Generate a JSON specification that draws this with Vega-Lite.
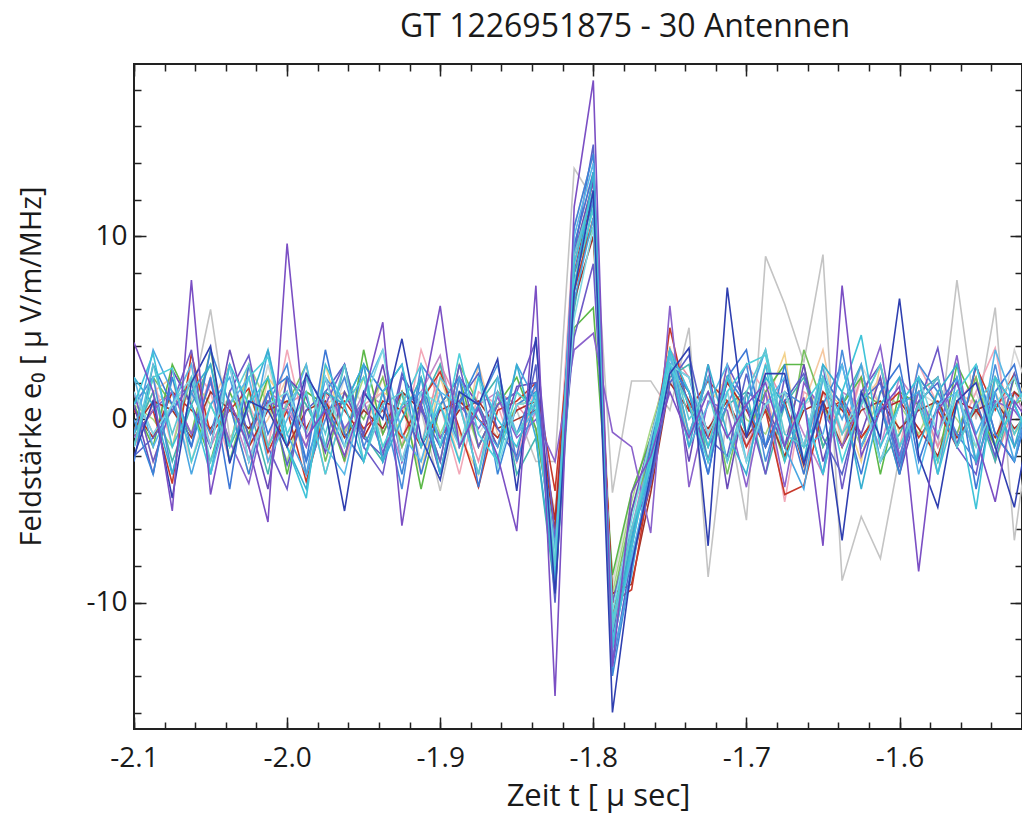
{
"$schema": "https://vega.github.io/schema/vega-lite/v6.json",
"width": 888, "height": 665,
"autosize": {"type": "none"},
"padding": {"left": 134, "top": 64, "right": 0, "bottom": 84},
"background": "white",
"title": {"text": "GT 1226951875 - 30 Antennen", "font": "Open Sans", "fontSize": 32, "fontWeight": "normal", "color": "#1a1a1a", "anchor": "middle", "frame": "group", "dx": 47, "offset": 19},
"config": {"view": {"stroke": "#222", "strokeWidth": 2}, "axis": {"tickColor": "#222", "tickWidth": 1.5, "grid": false, "domain": false}},
"data": {"values": [
{"a":"S25","t":-2.1,"v":-0.8},{"a":"S25","t":-2.0875,"v":1.5},{"a":"S25","t":-2.075,"v":0.8},{"a":"S25","t":-2.0625,"v":-2.3},{"a":"S25","t":-2.05,"v":1.5},{"a":"S25","t":-2.0375,"v":0.8},{"a":"S25","t":-2.025,"v":-1.5},{"a":"S25","t":-2.0125,"v":3.0},{"a":"S25","t":-2,"v":-0.8},{"a":"S25","t":-1.9875,"v":0.8},{"a":"S25","t":-1.975,"v":-1.5},{"a":"S25","t":-1.9625,"v":2.3},{"a":"S25","t":-1.95,"v":0.8},{"a":"S25","t":-1.9375,"v":-0.8},{"a":"S25","t":-1.925,"v":1.5},{"a":"S25","t":-1.9125,"v":-2.3},{"a":"S25","t":-1.9,"v":0.8},{"a":"S25","t":-1.8875,"v":1.5},{"a":"S25","t":-1.875,"v":-0.8},{"a":"S25","t":-1.8625,"v":0.8},{"a":"S25","t":-1.85,"v":1.5},{"a":"S25","t":-1.8375,"v":-0.5},{"a":"S25","t":-1.825,"v":-5.0},{"a":"S25","t":-1.8125,"v":7.5},{"a":"S25","t":-1.8,"v":11.5},{"a":"S25","t":-1.7875,"v":-9.0},{"a":"S25","t":-1.775,"v":-4.0},{"a":"S25","t":-1.7625,"v":-1.0},{"a":"S25","t":-1.75,"v":2.3},{"a":"S25","t":-1.7375,"v":-0.8},{"a":"S25","t":-1.725,"v":1.5},{"a":"S25","t":-1.7125,"v":0.8},{"a":"S25","t":-1.7,"v":-1.5},{"a":"S25","t":-1.6875,"v":2.3},{"a":"S25","t":-1.675,"v":-0.8},{"a":"S25","t":-1.6625,"v":0.8},{"a":"S25","t":-1.65,"v":1.5},{"a":"S25","t":-1.6375,"v":-1.5},{"a":"S25","t":-1.625,"v":3.0},{"a":"S25","t":-1.6125,"v":0.8},{"a":"S25","t":-1.6,"v":-1.5},{"a":"S25","t":-1.5875,"v":1.5},{"a":"S25","t":-1.575,"v":0.8},{"a":"S25","t":-1.5625,"v":-0.8},{"a":"S25","t":-1.55,"v":1.5},{"a":"S25","t":-1.5375,"v":-1.5},{"a":"S25","t":-1.525,"v":3.8},{"a":"S25","t":-1.5125,"v":0.8},
{"a":"S24","t":-2.1,"v":0.5},{"a":"S24","t":-2.0875,"v":-1.0},{"a":"S24","t":-2.075,"v":1.5},{"a":"S24","t":-2.0625,"v":1.0},{"a":"S24","t":-2.05,"v":6.0},{"a":"S24","t":-2.0375,"v":-1.0},{"a":"S24","t":-2.025,"v":0.5},{"a":"S24","t":-2.0125,"v":-1.5},{"a":"S24","t":-2,"v":1.0},{"a":"S24","t":-1.9875,"v":-0.5},{"a":"S24","t":-1.975,"v":1.0},{"a":"S24","t":-1.9625,"v":-2.0},{"a":"S24","t":-1.95,"v":0.5},{"a":"S24","t":-1.9375,"v":1.5},{"a":"S24","t":-1.925,"v":-1.0},{"a":"S24","t":-1.9125,"v":0.5},{"a":"S24","t":-1.9,"v":-3.9},{"a":"S24","t":-1.8875,"v":1.0},{"a":"S24","t":-1.875,"v":0.5},{"a":"S24","t":-1.8625,"v":-1.0},{"a":"S24","t":-1.85,"v":0.5},{"a":"S24","t":-1.8375,"v":-2.3},{"a":"S24","t":-1.825,"v":-2.3},{"a":"S24","t":-1.8125,"v":13.7},{"a":"S24","t":-1.8,"v":12.0},{"a":"S24","t":-1.7875,"v":-4.0},{"a":"S24","t":-1.775,"v":2.1},{"a":"S24","t":-1.7625,"v":2.1},{"a":"S24","t":-1.75,"v":0.5},{"a":"S24","t":-1.7375,"v":5.0},{"a":"S24","t":-1.725,"v":-8.6},{"a":"S24","t":-1.7125,"v":0.5},{"a":"S24","t":-1.7,"v":-5.5},{"a":"S24","t":-1.6875,"v":8.9},{"a":"S24","t":-1.675,"v":6.3},{"a":"S24","t":-1.6625,"v":3.1},{"a":"S24","t":-1.65,"v":9.0},{"a":"S24","t":-1.6375,"v":-8.8},{"a":"S24","t":-1.625,"v":-5.3},{"a":"S24","t":-1.6125,"v":-7.6},{"a":"S24","t":-1.6,"v":-2.0},{"a":"S24","t":-1.5875,"v":1.0},{"a":"S24","t":-1.575,"v":-1.5},{"a":"S24","t":-1.5625,"v":7.6},{"a":"S24","t":-1.55,"v":0.0},{"a":"S24","t":-1.5375,"v":6.1},{"a":"S24","t":-1.525,"v":-6.6},{"a":"S24","t":-1.5125,"v":1.0},
{"a":"S17","t":-2.1,"v":1.5},{"a":"S17","t":-2.0875,"v":-2.3},{"a":"S17","t":-2.075,"v":0.8},{"a":"S17","t":-2.0625,"v":3.0},{"a":"S17","t":-2.05,"v":-1.5},{"a":"S17","t":-2.0375,"v":0.8},{"a":"S17","t":-2.025,"v":-3.0},{"a":"S17","t":-2.0125,"v":2.3},{"a":"S17","t":-2,"v":0.8},{"a":"S17","t":-1.9875,"v":-1.5},{"a":"S17","t":-1.975,"v":3.0},{"a":"S17","t":-1.9625,"v":-0.8},{"a":"S17","t":-1.95,"v":-2.3},{"a":"S17","t":-1.9375,"v":1.5},{"a":"S17","t":-1.925,"v":0.8},{"a":"S17","t":-1.9125,"v":-3.0},{"a":"S17","t":-1.9,"v":2.3},{"a":"S17","t":-1.8875,"v":-0.8},{"a":"S17","t":-1.875,"v":-3.0},{"a":"S17","t":-1.8625,"v":1.5},{"a":"S17","t":-1.85,"v":0.8},{"a":"S17","t":-1.8375,"v":1.5},{"a":"S17","t":-1.825,"v":-6.5},{"a":"S17","t":-1.8125,"v":9.0},{"a":"S17","t":-1.8,"v":13.0},{"a":"S17","t":-1.7875,"v":-10.5},{"a":"S17","t":-1.775,"v":-6.5},{"a":"S17","t":-1.7625,"v":-1.5},{"a":"S17","t":-1.75,"v":4.0},{"a":"S17","t":-1.7375,"v":-1.5},{"a":"S17","t":-1.725,"v":0.8},{"a":"S17","t":-1.7125,"v":2.3},{"a":"S17","t":-1.7,"v":-1.5},{"a":"S17","t":-1.6875,"v":0.8},{"a":"S17","t":-1.675,"v":3.6},{"a":"S17","t":-1.6625,"v":-3.0},{"a":"S17","t":-1.65,"v":1.5},{"a":"S17","t":-1.6375,"v":0.8},{"a":"S17","t":-1.625,"v":-2.3},{"a":"S17","t":-1.6125,"v":3.0},{"a":"S17","t":-1.6,"v":-0.8},{"a":"S17","t":-1.5875,"v":1.5},{"a":"S17","t":-1.575,"v":-2.3},{"a":"S17","t":-1.5625,"v":0.8},{"a":"S17","t":-1.55,"v":2.3},{"a":"S17","t":-1.5375,"v":-1.5},{"a":"S17","t":-1.525,"v":0.8},{"a":"S17","t":-1.5125,"v":3.0},
{"a":"S18","t":-2.1,"v":-0.8},{"a":"S18","t":-2.0875,"v":1.5},{"a":"S18","t":-2.075,"v":2.3},{"a":"S18","t":-2.0625,"v":-2.3},{"a":"S18","t":-2.05,"v":0.8},{"a":"S18","t":-2.0375,"v":3.0},{"a":"S18","t":-2.025,"v":-1.5},{"a":"S18","t":-2.0125,"v":0.0},{"a":"S18","t":-2,"v":2.3},{"a":"S18","t":-1.9875,"v":-3.0},{"a":"S18","t":-1.975,"v":0.8},{"a":"S18","t":-1.9625,"v":1.5},{"a":"S18","t":-1.95,"v":-0.8},{"a":"S18","t":-1.9375,"v":2.3},{"a":"S18","t":-1.925,"v":-1.5},{"a":"S18","t":-1.9125,"v":0.8},{"a":"S18","t":-1.9,"v":1.5},{"a":"S18","t":-1.8875,"v":-2.3},{"a":"S18","t":-1.875,"v":3.0},{"a":"S18","t":-1.8625,"v":-0.8},{"a":"S18","t":-1.85,"v":-1.5},{"a":"S18","t":-1.8375,"v":1.0},{"a":"S18","t":-1.825,"v":-5.5},{"a":"S18","t":-1.8125,"v":8.5},{"a":"S18","t":-1.8,"v":12.5},{"a":"S18","t":-1.7875,"v":-11.0},{"a":"S18","t":-1.775,"v":-6.0},{"a":"S18","t":-1.7625,"v":-2.0},{"a":"S18","t":-1.75,"v":3.0},{"a":"S18","t":-1.7375,"v":0.8},{"a":"S18","t":-1.725,"v":-1.5},{"a":"S18","t":-1.7125,"v":3.0},{"a":"S18","t":-1.7,"v":-0.8},{"a":"S18","t":-1.6875,"v":1.5},{"a":"S18","t":-1.675,"v":-2.3},{"a":"S18","t":-1.6625,"v":0.8},{"a":"S18","t":-1.65,"v":3.8},{"a":"S18","t":-1.6375,"v":-1.5},{"a":"S18","t":-1.625,"v":0.8},{"a":"S18","t":-1.6125,"v":2.3},{"a":"S18","t":-1.6,"v":-1.5},{"a":"S18","t":-1.5875,"v":0.8},{"a":"S18","t":-1.575,"v":-3.0},{"a":"S18","t":-1.5625,"v":1.5},{"a":"S18","t":-1.55,"v":0.8},{"a":"S18","t":-1.5375,"v":1.5},{"a":"S18","t":-1.525,"v":-0.8},{"a":"S18","t":-1.5125,"v":1.5},
{"a":"S19","t":-2.1,"v":0.8},{"a":"S19","t":-2.0875,"v":2.3},{"a":"S19","t":-2.075,"v":-1.5},{"a":"S19","t":-2.0625,"v":3.0},{"a":"S19","t":-2.05,"v":1.5},{"a":"S19","t":-2.0375,"v":-2.3},{"a":"S19","t":-2.025,"v":0.8},{"a":"S19","t":-2.0125,"v":-1.5},{"a":"S19","t":-2,"v":3.8},{"a":"S19","t":-1.9875,"v":-0.8},{"a":"S19","t":-1.975,"v":1.5},{"a":"S19","t":-1.9625,"v":-2.3},{"a":"S19","t":-1.95,"v":0.8},{"a":"S19","t":-1.9375,"v":1.5},{"a":"S19","t":-1.925,"v":-1.5},{"a":"S19","t":-1.9125,"v":3.8},{"a":"S19","t":-1.9,"v":0.8},{"a":"S19","t":-1.8875,"v":-3.0},{"a":"S19","t":-1.875,"v":1.5},{"a":"S19","t":-1.8625,"v":0.8},{"a":"S19","t":-1.85,"v":-2.3},{"a":"S19","t":-1.8375,"v":2.0},{"a":"S19","t":-1.825,"v":-6.0},{"a":"S19","t":-1.8125,"v":10.5},{"a":"S19","t":-1.8,"v":14.5},{"a":"S19","t":-1.7875,"v":-11.5},{"a":"S19","t":-1.775,"v":-7.0},{"a":"S19","t":-1.7625,"v":-2.0},{"a":"S19","t":-1.75,"v":3.5},{"a":"S19","t":-1.7375,"v":1.5},{"a":"S19","t":-1.725,"v":-2.3},{"a":"S19","t":-1.7125,"v":0.8},{"a":"S19","t":-1.7,"v":3.0},{"a":"S19","t":-1.6875,"v":1.5},{"a":"S19","t":-1.675,"v":-4.5},{"a":"S19","t":-1.6625,"v":1.5},{"a":"S19","t":-1.65,"v":0.8},{"a":"S19","t":-1.6375,"v":-1.5},{"a":"S19","t":-1.625,"v":2.3},{"a":"S19","t":-1.6125,"v":0.8},{"a":"S19","t":-1.6,"v":-1.5},{"a":"S19","t":-1.5875,"v":3.0},{"a":"S19","t":-1.575,"v":0.8},{"a":"S19","t":-1.5625,"v":-0.8},{"a":"S19","t":-1.55,"v":1.5},{"a":"S19","t":-1.5375,"v":3.9},{"a":"S19","t":-1.525,"v":-1.5},{"a":"S19","t":-1.5125,"v":0.8},
{"a":"S20","t":-2.1,"v":-1.5},{"a":"S20","t":-2.0875,"v":0.8},{"a":"S20","t":-2.075,"v":1.5},{"a":"S20","t":-2.0625,"v":-0.8},{"a":"S20","t":-2.05,"v":2.3},{"a":"S20","t":-2.0375,"v":-1.5},{"a":"S20","t":-2.025,"v":3.0},{"a":"S20","t":-2.0125,"v":-2.3},{"a":"S20","t":-2,"v":0.8},{"a":"S20","t":-1.9875,"v":1.5},{"a":"S20","t":-1.975,"v":-3.0},{"a":"S20","t":-1.9625,"v":0.8},{"a":"S20","t":-1.95,"v":2.3},{"a":"S20","t":-1.9375,"v":-0.8},{"a":"S20","t":-1.925,"v":1.5},{"a":"S20","t":-1.9125,"v":-1.5},{"a":"S20","t":-1.9,"v":3.0},{"a":"S20","t":-1.8875,"v":0.8},{"a":"S20","t":-1.875,"v":-2.3},{"a":"S20","t":-1.8625,"v":1.5},{"a":"S20","t":-1.85,"v":0.8},{"a":"S20","t":-1.8375,"v":-0.5},{"a":"S20","t":-1.825,"v":-7.0},{"a":"S20","t":-1.8125,"v":9.5},{"a":"S20","t":-1.8,"v":13.5},{"a":"S20","t":-1.7875,"v":-12.0},{"a":"S20","t":-1.775,"v":-6.5},{"a":"S20","t":-1.7625,"v":-1.0},{"a":"S20","t":-1.75,"v":3.8},{"a":"S20","t":-1.7375,"v":2.3},{"a":"S20","t":-1.725,"v":-0.8},{"a":"S20","t":-1.7125,"v":1.5},{"a":"S20","t":-1.7,"v":-2.3},{"a":"S20","t":-1.6875,"v":3.0},{"a":"S20","t":-1.675,"v":0.8},{"a":"S20","t":-1.6625,"v":-1.5},{"a":"S20","t":-1.65,"v":1.5},{"a":"S20","t":-1.6375,"v":-0.8},{"a":"S20","t":-1.625,"v":2.3},{"a":"S20","t":-1.6125,"v":-2.3},{"a":"S20","t":-1.6,"v":0.8},{"a":"S20","t":-1.5875,"v":1.5},{"a":"S20","t":-1.575,"v":-1.5},{"a":"S20","t":-1.5625,"v":0.8},{"a":"S20","t":-1.55,"v":2.3},{"a":"S20","t":-1.5375,"v":-2.3},{"a":"S20","t":-1.525,"v":0.8},{"a":"S20","t":-1.5125,"v":1.5},
{"a":"S26","t":-2.1,"v":1.5},{"a":"S26","t":-2.0875,"v":-0.8},{"a":"S26","t":-2.075,"v":0.8},{"a":"S26","t":-2.0625,"v":2.3},{"a":"S26","t":-2.05,"v":-1.5},{"a":"S26","t":-2.0375,"v":0.8},{"a":"S26","t":-2.025,"v":-2.3},{"a":"S26","t":-2.0125,"v":1.5},{"a":"S26","t":-2,"v":0.8},{"a":"S26","t":-1.9875,"v":-1.5},{"a":"S26","t":-1.975,"v":2.3},{"a":"S26","t":-1.9625,"v":-0.8},{"a":"S26","t":-1.95,"v":1.5},{"a":"S26","t":-1.9375,"v":0.8},{"a":"S26","t":-1.925,"v":-2.3},{"a":"S26","t":-1.9125,"v":1.5},{"a":"S26","t":-1.9,"v":3.5},{"a":"S26","t":-1.8875,"v":-1.5},{"a":"S26","t":-1.875,"v":0.8},{"a":"S26","t":-1.8625,"v":1.5},{"a":"S26","t":-1.85,"v":-2.3},{"a":"S26","t":-1.8375,"v":0.5},{"a":"S26","t":-1.825,"v":-7.5},{"a":"S26","t":-1.8125,"v":8.5},{"a":"S26","t":-1.8,"v":13.0},{"a":"S26","t":-1.7875,"v":-11.0},{"a":"S26","t":-1.775,"v":-6.0},{"a":"S26","t":-1.7625,"v":-1.5},{"a":"S26","t":-1.75,"v":3.8},{"a":"S26","t":-1.7375,"v":1.5},{"a":"S26","t":-1.725,"v":-0.8},{"a":"S26","t":-1.7125,"v":2.3},{"a":"S26","t":-1.7,"v":-1.5},{"a":"S26","t":-1.6875,"v":0.8},{"a":"S26","t":-1.675,"v":1.5},{"a":"S26","t":-1.6625,"v":-0.8},{"a":"S26","t":-1.65,"v":-3.0},{"a":"S26","t":-1.6375,"v":1.5},{"a":"S26","t":-1.625,"v":0.8},{"a":"S26","t":-1.6125,"v":-1.5},{"a":"S26","t":-1.6,"v":2.3},{"a":"S26","t":-1.5875,"v":0.8},{"a":"S26","t":-1.575,"v":-0.8},{"a":"S26","t":-1.5625,"v":1.5},{"a":"S26","t":-1.55,"v":-2.3},{"a":"S26","t":-1.5375,"v":0.8},{"a":"S26","t":-1.525,"v":1.5},{"a":"S26","t":-1.5125,"v":-0.8},
{"a":"S16","t":-2.1,"v":0.8},{"a":"S16","t":-2.0875,"v":0.0},{"a":"S16","t":-2.075,"v":-1.5},{"a":"S16","t":-2.0625,"v":2.3},{"a":"S16","t":-2.05,"v":0.8},{"a":"S16","t":-2.0375,"v":-1.5},{"a":"S16","t":-2.025,"v":3.0},{"a":"S16","t":-2.0125,"v":0.8},{"a":"S16","t":-2,"v":-2.3},{"a":"S16","t":-1.9875,"v":1.5},{"a":"S16","t":-1.975,"v":0.8},{"a":"S16","t":-1.9625,"v":-0.8},{"a":"S16","t":-1.95,"v":2.3},{"a":"S16","t":-1.9375,"v":-1.5},{"a":"S16","t":-1.925,"v":0.0},{"a":"S16","t":-1.9125,"v":2.3},{"a":"S16","t":-1.9,"v":-0.8},{"a":"S16","t":-1.8875,"v":1.5},{"a":"S16","t":-1.875,"v":-1.5},{"a":"S16","t":-1.8625,"v":0.8},{"a":"S16","t":-1.85,"v":1.5},{"a":"S16","t":-1.8375,"v":0.5},{"a":"S16","t":-1.825,"v":-6.0},{"a":"S16","t":-1.8125,"v":7.0},{"a":"S16","t":-1.8,"v":11.0},{"a":"S16","t":-1.7875,"v":-9.5},{"a":"S16","t":-1.775,"v":-4.5},{"a":"S16","t":-1.7625,"v":-0.5},{"a":"S16","t":-1.75,"v":3.0},{"a":"S16","t":-1.7375,"v":0.8},{"a":"S16","t":-1.725,"v":-1.5},{"a":"S16","t":-1.7125,"v":2.3},{"a":"S16","t":-1.7,"v":0.0},{"a":"S16","t":-1.6875,"v":-0.8},{"a":"S16","t":-1.675,"v":1.5},{"a":"S16","t":-1.6625,"v":-1.5},{"a":"S16","t":-1.65,"v":2.3},{"a":"S16","t":-1.6375,"v":0.8},{"a":"S16","t":-1.625,"v":-1.5},{"a":"S16","t":-1.6125,"v":1.5},{"a":"S16","t":-1.6,"v":0.8},{"a":"S16","t":-1.5875,"v":-0.8},{"a":"S16","t":-1.575,"v":1.5},{"a":"S16","t":-1.5625,"v":0.0},{"a":"S16","t":-1.55,"v":-1.5},{"a":"S16","t":-1.5375,"v":2.3},{"a":"S16","t":-1.525,"v":-0.8},{"a":"S16","t":-1.5125,"v":0.8},
{"a":"S15","t":-2.1,"v":-1.5},{"a":"S15","t":-2.0875,"v":2.3},{"a":"S15","t":-2.075,"v":0.8},{"a":"S15","t":-2.0625,"v":-0.8},{"a":"S15","t":-2.05,"v":3.8},{"a":"S15","t":-2.0375,"v":-2.3},{"a":"S15","t":-2.025,"v":1.5},{"a":"S15","t":-2.0125,"v":-1.5},{"a":"S15","t":-2,"v":0.8},{"a":"S15","t":-1.9875,"v":3.0},{"a":"S15","t":-1.975,"v":-2.3},{"a":"S15","t":-1.9625,"v":1.5},{"a":"S15","t":-1.95,"v":0.0},{"a":"S15","t":-1.9375,"v":2.3},{"a":"S15","t":-1.925,"v":-1.5},{"a":"S15","t":-1.9125,"v":0.8},{"a":"S15","t":-1.9,"v":-2.3},{"a":"S15","t":-1.8875,"v":3.0},{"a":"S15","t":-1.875,"v":0.8},{"a":"S15","t":-1.8625,"v":-1.5},{"a":"S15","t":-1.85,"v":0.8},{"a":"S15","t":-1.8375,"v":1.0},{"a":"S15","t":-1.825,"v":-8.0},{"a":"S15","t":-1.8125,"v":8.0},{"a":"S15","t":-1.8,"v":10.5},{"a":"S15","t":-1.7875,"v":-10.0},{"a":"S15","t":-1.775,"v":-5.0},{"a":"S15","t":-1.7625,"v":-2.0},{"a":"S15","t":-1.75,"v":3.8},{"a":"S15","t":-1.7375,"v":-0.8},{"a":"S15","t":-1.725,"v":2.3},{"a":"S15","t":-1.7125,"v":-3.0},{"a":"S15","t":-1.7,"v":1.5},{"a":"S15","t":-1.6875,"v":0.8},{"a":"S15","t":-1.675,"v":-2.3},{"a":"S15","t":-1.6625,"v":3.8},{"a":"S15","t":-1.65,"v":0.8},{"a":"S15","t":-1.6375,"v":-1.5},{"a":"S15","t":-1.625,"v":1.5},{"a":"S15","t":-1.6125,"v":0.8},{"a":"S15","t":-1.6,"v":-3.0},{"a":"S15","t":-1.5875,"v":2.3},{"a":"S15","t":-1.575,"v":0.8},{"a":"S15","t":-1.5625,"v":-0.8},{"a":"S15","t":-1.55,"v":2.3},{"a":"S15","t":-1.5375,"v":-1.5},{"a":"S15","t":-1.525,"v":0.8},{"a":"S15","t":-1.5125,"v":1.5},
{"a":"S14","t":-2.1,"v":0.8},{"a":"S14","t":-2.0875,"v":-1.5},{"a":"S14","t":-2.075,"v":3.0},{"a":"S14","t":-2.0625,"v":0.8},{"a":"S14","t":-2.05,"v":-2.3},{"a":"S14","t":-2.0375,"v":1.5},{"a":"S14","t":-2.025,"v":-0.8},{"a":"S14","t":-2.0125,"v":2.3},{"a":"S14","t":-2,"v":-3.0},{"a":"S14","t":-1.9875,"v":1.5},{"a":"S14","t":-1.975,"v":0.8},{"a":"S14","t":-1.9625,"v":-2.3},{"a":"S14","t":-1.95,"v":3.8},{"a":"S14","t":-1.9375,"v":-0.8},{"a":"S14","t":-1.925,"v":1.5},{"a":"S14","t":-1.9125,"v":-3.8},{"a":"S14","t":-1.9,"v":0.8},{"a":"S14","t":-1.8875,"v":2.3},{"a":"S14","t":-1.875,"v":-1.5},{"a":"S14","t":-1.8625,"v":0.8},{"a":"S14","t":-1.85,"v":2.3},{"a":"S14","t":-1.8375,"v":-0.5},{"a":"S14","t":-1.825,"v":-7.0},{"a":"S14","t":-1.8125,"v":5.0},{"a":"S14","t":-1.8,"v":6.1},{"a":"S14","t":-1.7875,"v":-8.5},{"a":"S14","t":-1.775,"v":-4.0},{"a":"S14","t":-1.7625,"v":-1.0},{"a":"S14","t":-1.75,"v":3.0},{"a":"S14","t":-1.7375,"v":1.5},{"a":"S14","t":-1.725,"v":-2.3},{"a":"S14","t":-1.7125,"v":2.3},{"a":"S14","t":-1.7,"v":-0.8},{"a":"S14","t":-1.6875,"v":1.5},{"a":"S14","t":-1.675,"v":3.0},{"a":"S14","t":-1.6625,"v":3.0},{"a":"S14","t":-1.65,"v":-1.5},{"a":"S14","t":-1.6375,"v":0.8},{"a":"S14","t":-1.625,"v":2.3},{"a":"S14","t":-1.6125,"v":-3.0},{"a":"S14","t":-1.6,"v":1.5},{"a":"S14","t":-1.5875,"v":0.8},{"a":"S14","t":-1.575,"v":-2.3},{"a":"S14","t":-1.5625,"v":3.0},{"a":"S14","t":-1.55,"v":0.8},{"a":"S14","t":-1.5375,"v":-1.5},{"a":"S14","t":-1.525,"v":2.3},{"a":"S14","t":-1.5125,"v":-0.8},
{"a":"S13","t":-2.1,"v":-0.8},{"a":"S13","t":-2.0875,"v":1.5},{"a":"S13","t":-2.075,"v":-2.3},{"a":"S13","t":-2.0625,"v":0.8},{"a":"S13","t":-2.05,"v":3.0},{"a":"S13","t":-2.0375,"v":-1.5},{"a":"S13","t":-2.025,"v":0.8},{"a":"S13","t":-2.0125,"v":-3.0},{"a":"S13","t":-2,"v":2.3},{"a":"S13","t":-1.9875,"v":0.8},{"a":"S13","t":-1.975,"v":-1.5},{"a":"S13","t":-1.9625,"v":3.0},{"a":"S13","t":-1.95,"v":-0.8},{"a":"S13","t":-1.9375,"v":-2.3},{"a":"S13","t":-1.925,"v":1.5},{"a":"S13","t":-1.9125,"v":0.8},{"a":"S13","t":-1.9,"v":3.0},{"a":"S13","t":-1.8875,"v":-1.5},{"a":"S13","t":-1.875,"v":0.8},{"a":"S13","t":-1.8625,"v":2.3},{"a":"S13","t":-1.85,"v":-3.0},{"a":"S13","t":-1.8375,"v":-1.0},{"a":"S13","t":-1.825,"v":-9.5},{"a":"S13","t":-1.8125,"v":6.0},{"a":"S13","t":-1.8,"v":12.0},{"a":"S13","t":-1.7875,"v":-11.0},{"a":"S13","t":-1.775,"v":-5.0},{"a":"S13","t":-1.7625,"v":-1.5},{"a":"S13","t":-1.75,"v":2.3},{"a":"S13","t":-1.7375,"v":3.0},{"a":"S13","t":-1.725,"v":-2.3},{"a":"S13","t":-1.7125,"v":0.8},{"a":"S13","t":-1.7,"v":1.5},{"a":"S13","t":-1.6875,"v":-3.0},{"a":"S13","t":-1.675,"v":0.8},{"a":"S13","t":-1.6625,"v":2.3},{"a":"S13","t":-1.65,"v":-1.5},{"a":"S13","t":-1.6375,"v":0.8},{"a":"S13","t":-1.625,"v":3.0},{"a":"S13","t":-1.6125,"v":-2.3},{"a":"S13","t":-1.6,"v":-0.8},{"a":"S13","t":-1.5875,"v":1.5},{"a":"S13","t":-1.575,"v":2.3},{"a":"S13","t":-1.5625,"v":-1.5},{"a":"S13","t":-1.55,"v":0.8},{"a":"S13","t":-1.5375,"v":-2.3},{"a":"S13","t":-1.525,"v":1.5},{"a":"S13","t":-1.5125,"v":0.8},
{"a":"S23","t":-2.1,"v":-0.5},{"a":"S23","t":-2.0875,"v":1.0},{"a":"S23","t":-2.075,"v":0.5},{"a":"S23","t":-2.0625,"v":-1.0},{"a":"S23","t":-2.05,"v":1.5},{"a":"S23","t":-2.0375,"v":0.5},{"a":"S23","t":-2.025,"v":-0.5},{"a":"S23","t":-2.0125,"v":1.0},{"a":"S23","t":-2,"v":-1.5},{"a":"S23","t":-1.9875,"v":0.5},{"a":"S23","t":-1.975,"v":1.0},{"a":"S23","t":-1.9625,"v":-1.0},{"a":"S23","t":-1.95,"v":0.5},{"a":"S23","t":-1.9375,"v":-0.5},{"a":"S23","t":-1.925,"v":1.5},{"a":"S23","t":-1.9125,"v":0.5},{"a":"S23","t":-1.9,"v":-1.0},{"a":"S23","t":-1.8875,"v":0.5},{"a":"S23","t":-1.875,"v":1.0},{"a":"S23","t":-1.8625,"v":-0.5},{"a":"S23","t":-1.85,"v":0.0},{"a":"S23","t":-1.8375,"v":0.5},{"a":"S23","t":-1.825,"v":-6.0},{"a":"S23","t":-1.8125,"v":6.5},{"a":"S23","t":-1.8,"v":10.0},{"a":"S23","t":-1.7875,"v":-9.5},{"a":"S23","t":-1.775,"v":-9.0},{"a":"S23","t":-1.7625,"v":-4.0},{"a":"S23","t":-1.75,"v":2.0},{"a":"S23","t":-1.7375,"v":0.5},{"a":"S23","t":-1.725,"v":-0.5},{"a":"S23","t":-1.7125,"v":1.0},{"a":"S23","t":-1.7,"v":-1.0},{"a":"S23","t":-1.6875,"v":0.5},{"a":"S23","t":-1.675,"v":-2.0},{"a":"S23","t":-1.6625,"v":0.5},{"a":"S23","t":-1.65,"v":1.0},{"a":"S23","t":-1.6375,"v":-1.5},{"a":"S23","t":-1.625,"v":0.5},{"a":"S23","t":-1.6125,"v":1.0},{"a":"S23","t":-1.6,"v":-0.5},{"a":"S23","t":-1.5875,"v":0.5},{"a":"S23","t":-1.575,"v":1.0},{"a":"S23","t":-1.5625,"v":-1.0},{"a":"S23","t":-1.55,"v":0.5},{"a":"S23","t":-1.5375,"v":1.0},{"a":"S23","t":-1.525,"v":-0.5},{"a":"S23","t":-1.5125,"v":0.5},
{"a":"S22","t":-2.1,"v":0.5},{"a":"S22","t":-2.0875,"v":-1.0},{"a":"S22","t":-2.075,"v":1.5},{"a":"S22","t":-2.0625,"v":0.5},{"a":"S22","t":-2.05,"v":-0.5},{"a":"S22","t":-2.0375,"v":1.0},{"a":"S22","t":-2.025,"v":-1.5},{"a":"S22","t":-2.0125,"v":0.5},{"a":"S22","t":-2,"v":1.0},{"a":"S22","t":-1.9875,"v":-0.5},{"a":"S22","t":-1.975,"v":1.5},{"a":"S22","t":-1.9625,"v":0.5},{"a":"S22","t":-1.95,"v":-1.0},{"a":"S22","t":-1.9375,"v":1.0},{"a":"S22","t":-1.925,"v":0.5},{"a":"S22","t":-1.9125,"v":-1.5},{"a":"S22","t":-1.9,"v":0.5},{"a":"S22","t":-1.8875,"v":1.0},{"a":"S22","t":-1.875,"v":0.0},{"a":"S22","t":-1.8625,"v":-1.0},{"a":"S22","t":-1.85,"v":0.5},{"a":"S22","t":-1.8375,"v":1.0},{"a":"S22","t":-1.825,"v":-5.5},{"a":"S22","t":-1.8125,"v":8.0},{"a":"S22","t":-1.8,"v":12.5},{"a":"S22","t":-1.7875,"v":-10.5},{"a":"S22","t":-1.775,"v":-8.0},{"a":"S22","t":-1.7625,"v":-3.5},{"a":"S22","t":-1.75,"v":3.0},{"a":"S22","t":-1.7375,"v":1.0},{"a":"S22","t":-1.725,"v":-1.0},{"a":"S22","t":-1.7125,"v":2.0},{"a":"S22","t":-1.7,"v":0.5},{"a":"S22","t":-1.6875,"v":-1.5},{"a":"S22","t":-1.675,"v":1.0},{"a":"S22","t":-1.6625,"v":-2.5},{"a":"S22","t":-1.65,"v":1.5},{"a":"S22","t":-1.6375,"v":0.5},{"a":"S22","t":-1.625,"v":-1.0},{"a":"S22","t":-1.6125,"v":0.5},{"a":"S22","t":-1.6,"v":1.0},{"a":"S22","t":-1.5875,"v":-0.5},{"a":"S22","t":-1.575,"v":-2.0},{"a":"S22","t":-1.5625,"v":1.0},{"a":"S22","t":-1.55,"v":0.5},{"a":"S22","t":-1.5375,"v":-1.0},{"a":"S22","t":-1.525,"v":1.5},{"a":"S22","t":-1.5125,"v":0.5},
{"a":"S21","t":-2.1,"v":-1.0},{"a":"S21","t":-2.0875,"v":0.5},{"a":"S21","t":-2.075,"v":-3.5},{"a":"S21","t":-2.0625,"v":3.6},{"a":"S21","t":-2.05,"v":-0.8},{"a":"S21","t":-2.0375,"v":0.5},{"a":"S21","t":-2.025,"v":1.7},{"a":"S21","t":-2.0125,"v":-1.8},{"a":"S21","t":-2,"v":0.5},{"a":"S21","t":-1.9875,"v":-3.4},{"a":"S21","t":-1.975,"v":0.5},{"a":"S21","t":-1.9625,"v":1.0},{"a":"S21","t":-1.95,"v":-0.5},{"a":"S21","t":-1.9375,"v":0.5},{"a":"S21","t":-1.925,"v":-1.0},{"a":"S21","t":-1.9125,"v":1.0},{"a":"S21","t":-1.9,"v":2.6},{"a":"S21","t":-1.8875,"v":-0.5},{"a":"S21","t":-1.875,"v":-3.7},{"a":"S21","t":-1.8625,"v":0.5},{"a":"S21","t":-1.85,"v":1.0},{"a":"S21","t":-1.8375,"v":2.0},{"a":"S21","t":-1.825,"v":-3.9},{"a":"S21","t":-1.8125,"v":7.0},{"a":"S21","t":-1.8,"v":11.0},{"a":"S21","t":-1.7875,"v":-10.0},{"a":"S21","t":-1.775,"v":-9.3},{"a":"S21","t":-1.7625,"v":-3.0},{"a":"S21","t":-1.75,"v":5.0},{"a":"S21","t":-1.7375,"v":0.5},{"a":"S21","t":-1.725,"v":2.1},{"a":"S21","t":-1.7125,"v":1.0},{"a":"S21","t":-1.7,"v":-1.5},{"a":"S21","t":-1.6875,"v":0.5},{"a":"S21","t":-1.675,"v":-4.1},{"a":"S21","t":-1.6625,"v":-3.6},{"a":"S21","t":-1.65,"v":0.5},{"a":"S21","t":-1.6375,"v":1.0},{"a":"S21","t":-1.625,"v":-1.0},{"a":"S21","t":-1.6125,"v":0.5},{"a":"S21","t":-1.6,"v":1.5},{"a":"S21","t":-1.5875,"v":-1.0},{"a":"S21","t":-1.575,"v":0.5},{"a":"S21","t":-1.5625,"v":-1.5},{"a":"S21","t":-1.55,"v":2.9},{"a":"S21","t":-1.5375,"v":0.5},{"a":"S21","t":-1.525,"v":2.5},{"a":"S21","t":-1.5125,"v":-1.0},
{"a":"S03","t":-2.1,"v":0.8},{"a":"S03","t":-2.0875,"v":-3.0},{"a":"S03","t":-2.075,"v":2.7},{"a":"S03","t":-2.0625,"v":0.8},{"a":"S03","t":-2.05,"v":-1.5},{"a":"S03","t":-2.0375,"v":3.8},{"a":"S03","t":-2.025,"v":0.0},{"a":"S03","t":-2.0125,"v":-3.8},{"a":"S03","t":-2,"v":2.3},{"a":"S03","t":-1.9875,"v":1.2},{"a":"S03","t":-1.975,"v":-1.8},{"a":"S03","t":-1.9625,"v":1.5},{"a":"S03","t":-1.95,"v":-0.8},{"a":"S03","t":-1.9375,"v":3.0},{"a":"S03","t":-1.925,"v":-2.3},{"a":"S03","t":-1.9125,"v":0.8},{"a":"S03","t":-1.9,"v":-3.0},{"a":"S03","t":-1.8875,"v":2.3},{"a":"S03","t":-1.875,"v":0.8},{"a":"S03","t":-1.8625,"v":-1.5},{"a":"S03","t":-1.85,"v":1.8},{"a":"S03","t":-1.8375,"v":2.0},{"a":"S03","t":-1.825,"v":-8.5},{"a":"S03","t":-1.8125,"v":9.0},{"a":"S03","t":-1.8,"v":13.0},{"a":"S03","t":-1.7875,"v":-12.0},{"a":"S03","t":-1.775,"v":-5.0},{"a":"S03","t":-1.7625,"v":-1.0},{"a":"S03","t":-1.75,"v":3.0},{"a":"S03","t":-1.7375,"v":-2.3},{"a":"S03","t":-1.725,"v":3.0},{"a":"S03","t":-1.7125,"v":-3.8},{"a":"S03","t":-1.7,"v":1.5},{"a":"S03","t":-1.6875,"v":0.8},{"a":"S03","t":-1.675,"v":-1.5},{"a":"S03","t":-1.6625,"v":3.0},{"a":"S03","t":-1.65,"v":-2.3},{"a":"S03","t":-1.6375,"v":1.2},{"a":"S03","t":-1.625,"v":-0.8},{"a":"S03","t":-1.6125,"v":2.3},{"a":"S03","t":-1.6,"v":-3.0},{"a":"S03","t":-1.5875,"v":0.8},{"a":"S03","t":-1.575,"v":2.3},{"a":"S03","t":-1.5625,"v":-1.5},{"a":"S03","t":-1.55,"v":3.0},{"a":"S03","t":-1.5375,"v":-0.8},{"a":"S03","t":-1.525,"v":-2.3},{"a":"S03","t":-1.5125,"v":1.5},
{"a":"S02","t":-2.1,"v":-1.0},{"a":"S02","t":-2.0875,"v":0.5},{"a":"S02","t":-2.075,"v":1.5},{"a":"S02","t":-2.0625,"v":-0.8},{"a":"S02","t":-2.05,"v":2.0},{"a":"S02","t":-2.0375,"v":-1.2},{"a":"S02","t":-2.025,"v":-3.5},{"a":"S02","t":-2.0125,"v":1.0},{"a":"S02","t":-2,"v":0.5},{"a":"S02","t":-1.9875,"v":-1.5},{"a":"S02","t":-1.975,"v":2.2},{"a":"S02","t":-1.9625,"v":-0.5},{"a":"S02","t":-1.95,"v":1.0},{"a":"S02","t":-1.9375,"v":-1.8},{"a":"S02","t":-1.925,"v":0.6},{"a":"S02","t":-1.9125,"v":1.5},{"a":"S02","t":-1.9,"v":-1.0},{"a":"S02","t":-1.8875,"v":0.8},{"a":"S02","t":-1.875,"v":-0.5},{"a":"S02","t":-1.8625,"v":1.2},{"a":"S02","t":-1.85,"v":-1.0},{"a":"S02","t":-1.8375,"v":0.0},{"a":"S02","t":-1.825,"v":-2.3},{"a":"S02","t":-1.8125,"v":3.8},{"a":"S02","t":-1.8,"v":4.7},{"a":"S02","t":-1.7875,"v":-0.7},{"a":"S02","t":-1.775,"v":-1.5},{"a":"S02","t":-1.7625,"v":-6.2},{"a":"S02","t":-1.75,"v":6.2},{"a":"S02","t":-1.7375,"v":-3.7},{"a":"S02","t":-1.725,"v":1.0},{"a":"S02","t":-1.7125,"v":0.5},{"a":"S02","t":-1.7,"v":-3.7},{"a":"S02","t":-1.6875,"v":1.5},{"a":"S02","t":-1.675,"v":-3.7},{"a":"S02","t":-1.6625,"v":2.0},{"a":"S02","t":-1.65,"v":0.5},{"a":"S02","t":-1.6375,"v":-1.5},{"a":"S02","t":-1.625,"v":1.0},{"a":"S02","t":-1.6125,"v":4.0},{"a":"S02","t":-1.6,"v":-2.0},{"a":"S02","t":-1.5875,"v":1.5},{"a":"S02","t":-1.575,"v":-1.0},{"a":"S02","t":-1.5625,"v":3.5},{"a":"S02","t":-1.55,"v":-2.5},{"a":"S02","t":-1.5375,"v":1.0},{"a":"S02","t":-1.525,"v":0.5},{"a":"S02","t":-1.5125,"v":-1.0},
{"a":"S05","t":-2.1,"v":1.5},{"a":"S05","t":-2.0875,"v":-2.3},{"a":"S05","t":-2.075,"v":0.8},{"a":"S05","t":-2.0625,"v":3.8},{"a":"S05","t":-2.05,"v":-3.0},{"a":"S05","t":-2.0375,"v":1.5},{"a":"S05","t":-2.025,"v":3.5},{"a":"S05","t":-2.0125,"v":-1.5},{"a":"S05","t":-2,"v":-3.8},{"a":"S05","t":-1.9875,"v":2.3},{"a":"S05","t":-1.975,"v":0.8},{"a":"S05","t":-1.9625,"v":3.0},{"a":"S05","t":-1.95,"v":-1.5},{"a":"S05","t":-1.9375,"v":-3.0},{"a":"S05","t":-1.925,"v":2.3},{"a":"S05","t":-1.9125,"v":0.8},{"a":"S05","t":-1.9,"v":-2.3},{"a":"S05","t":-1.8875,"v":3.0},{"a":"S05","t":-1.875,"v":-1.5},{"a":"S05","t":-1.8625,"v":0.8},{"a":"S05","t":-1.85,"v":1.5},{"a":"S05","t":-1.8375,"v":4.3},{"a":"S05","t":-1.825,"v":-6.5},{"a":"S05","t":-1.8125,"v":4.5},{"a":"S05","t":-1.8,"v":8.5},{"a":"S05","t":-1.7875,"v":-10.0},{"a":"S05","t":-1.775,"v":-6.0},{"a":"S05","t":-1.7625,"v":-3.5},{"a":"S05","t":-1.75,"v":3.0},{"a":"S05","t":-1.7375,"v":1.5},{"a":"S05","t":-1.725,"v":-2.3},{"a":"S05","t":-1.7125,"v":3.0},{"a":"S05","t":-1.7,"v":0.8},{"a":"S05","t":-1.6875,"v":-3.0},{"a":"S05","t":-1.675,"v":2.3},{"a":"S05","t":-1.6625,"v":-1.5},{"a":"S05","t":-1.65,"v":3.0},{"a":"S05","t":-1.6375,"v":-3.8},{"a":"S05","t":-1.625,"v":1.5},{"a":"S05","t":-1.6125,"v":3.0},{"a":"S05","t":-1.6,"v":-2.3},{"a":"S05","t":-1.5875,"v":0.8},{"a":"S05","t":-1.575,"v":3.9},{"a":"S05","t":-1.5625,"v":-1.5},{"a":"S05","t":-1.55,"v":-3.0},{"a":"S05","t":-1.5375,"v":2.3},{"a":"S05","t":-1.525,"v":0.8},{"a":"S05","t":-1.5125,"v":-1.5},
{"a":"S27","t":-2.1,"v":-2.0},{"a":"S27","t":-2.0875,"v":-1.0},{"a":"S27","t":-2.075,"v":0.5},{"a":"S27","t":-2.0625,"v":2.0},{"a":"S27","t":-2.05,"v":-1.5},{"a":"S27","t":-2.0375,"v":3.0},{"a":"S27","t":-2.025,"v":-1.0},{"a":"S27","t":-2.0125,"v":1.5},{"a":"S27","t":-2,"v":-2.5},{"a":"S27","t":-1.9875,"v":0.5},{"a":"S27","t":-1.975,"v":1.5},{"a":"S27","t":-1.9625,"v":3.0},{"a":"S27","t":-1.95,"v":-1.0},{"a":"S27","t":-1.9375,"v":-2.0},{"a":"S27","t":-1.925,"v":2.5},{"a":"S27","t":-1.9125,"v":0.5},{"a":"S27","t":-1.9,"v":-1.5},{"a":"S27","t":-1.8875,"v":1.0},{"a":"S27","t":-1.875,"v":2.5},{"a":"S27","t":-1.8625,"v":-0.5},{"a":"S27","t":-1.85,"v":-2.0},{"a":"S27","t":-1.8375,"v":3.0},{"a":"S27","t":-1.825,"v":-10.0},{"a":"S27","t":-1.8125,"v":9.0},{"a":"S27","t":-1.8,"v":15.0},{"a":"S27","t":-1.7875,"v":-13.5},{"a":"S27","t":-1.775,"v":-7.5},{"a":"S27","t":-1.7625,"v":-3.5},{"a":"S27","t":-1.75,"v":2.0},{"a":"S27","t":-1.7375,"v":3.5},{"a":"S27","t":-1.725,"v":-1.0},{"a":"S27","t":-1.7125,"v":-2.0},{"a":"S27","t":-1.7,"v":2.5},{"a":"S27","t":-1.6875,"v":-1.5},{"a":"S27","t":-1.675,"v":1.0},{"a":"S27","t":-1.6625,"v":2.5},{"a":"S27","t":-1.65,"v":-1.0},{"a":"S27","t":-1.6375,"v":-3.0},{"a":"S27","t":-1.625,"v":1.0},{"a":"S27","t":-1.6125,"v":2.0},{"a":"S27","t":-1.6,"v":-2.5},{"a":"S27","t":-1.5875,"v":1.0},{"a":"S27","t":-1.575,"v":2.0},{"a":"S27","t":-1.5625,"v":-1.5},{"a":"S27","t":-1.55,"v":1.0},{"a":"S27","t":-1.5375,"v":-2.0},{"a":"S27","t":-1.525,"v":2.5},{"a":"S27","t":-1.5125,"v":-1.0},
{"a":"S29","t":-2.1,"v":0.0},{"a":"S29","t":-2.0875,"v":-3.0},{"a":"S29","t":-2.075,"v":2.3},{"a":"S29","t":-2.0625,"v":-1.5},{"a":"S29","t":-2.05,"v":3.8},{"a":"S29","t":-2.0375,"v":0.8},{"a":"S29","t":-2.025,"v":-3.0},{"a":"S29","t":-2.0125,"v":1.5},{"a":"S29","t":-2,"v":2.3},{"a":"S29","t":-1.9875,"v":-2.3},{"a":"S29","t":-1.975,"v":0.8},{"a":"S29","t":-1.9625,"v":-1.5},{"a":"S29","t":-1.95,"v":3.0},{"a":"S29","t":-1.9375,"v":1.5},{"a":"S29","t":-1.925,"v":-3.0},{"a":"S29","t":-1.9125,"v":2.3},{"a":"S29","t":-1.9,"v":-1.5},{"a":"S29","t":-1.8875,"v":0.8},{"a":"S29","t":-1.875,"v":3.0},{"a":"S29","t":-1.8625,"v":-3.0},{"a":"S29","t":-1.85,"v":0.8},{"a":"S29","t":-1.8375,"v":1.5},{"a":"S29","t":-1.825,"v":-8.5},{"a":"S29","t":-1.8125,"v":10.5},{"a":"S29","t":-1.8,"v":14.5},{"a":"S29","t":-1.7875,"v":-14.0},{"a":"S29","t":-1.775,"v":-8.0},{"a":"S29","t":-1.7625,"v":-2.5},{"a":"S29","t":-1.75,"v":3.0},{"a":"S29","t":-1.7375,"v":1.5},{"a":"S29","t":-1.725,"v":-3.0},{"a":"S29","t":-1.7125,"v":2.3},{"a":"S29","t":-1.7,"v":0.8},{"a":"S29","t":-1.6875,"v":-1.5},{"a":"S29","t":-1.675,"v":3.0},{"a":"S29","t":-1.6625,"v":-2.3},{"a":"S29","t":-1.65,"v":0.8},{"a":"S29","t":-1.6375,"v":3.0},{"a":"S29","t":-1.625,"v":-1.5},{"a":"S29","t":-1.6125,"v":0.8},{"a":"S29","t":-1.6,"v":-3.0},{"a":"S29","t":-1.5875,"v":2.3},{"a":"S29","t":-1.575,"v":0.8},{"a":"S29","t":-1.5625,"v":-1.5},{"a":"S29","t":-1.55,"v":3.0},{"a":"S29","t":-1.5375,"v":-0.8},{"a":"S29","t":-1.525,"v":-2.3},{"a":"S29","t":-1.5125,"v":1.5},
{"a":"S06","t":-2.1,"v":-2.3},{"a":"S06","t":-2.0875,"v":3.0},{"a":"S06","t":-2.075,"v":0.8},{"a":"S06","t":-2.0625,"v":-1.5},{"a":"S06","t":-2.05,"v":2.3},{"a":"S06","t":-2.0375,"v":-3.8},{"a":"S06","t":-2.025,"v":3.0},{"a":"S06","t":-2.0125,"v":-0.8},{"a":"S06","t":-2,"v":1.5},{"a":"S06","t":-1.9875,"v":-2.3},{"a":"S06","t":-1.975,"v":3.8},{"a":"S06","t":-1.9625,"v":-0.8},{"a":"S06","t":-1.95,"v":-2.3},{"a":"S06","t":-1.9375,"v":1.5},{"a":"S06","t":-1.925,"v":3.0},{"a":"S06","t":-1.9125,"v":-3.0},{"a":"S06","t":-1.9,"v":0.8},{"a":"S06","t":-1.8875,"v":2.3},{"a":"S06","t":-1.875,"v":-3.7},{"a":"S06","t":-1.8625,"v":1.5},{"a":"S06","t":-1.85,"v":-0.8},{"a":"S06","t":-1.8375,"v":2.0},{"a":"S06","t":-1.825,"v":-7.5},{"a":"S06","t":-1.8125,"v":9.5},{"a":"S06","t":-1.8,"v":13.5},{"a":"S06","t":-1.7875,"v":-12.5},{"a":"S06","t":-1.775,"v":-7.0},{"a":"S06","t":-1.7625,"v":-1.5},{"a":"S06","t":-1.75,"v":3.8},{"a":"S06","t":-1.7375,"v":0.8},{"a":"S06","t":-1.725,"v":-3.0},{"a":"S06","t":-1.7125,"v":2.3},{"a":"S06","t":-1.7,"v":3.8},{"a":"S06","t":-1.6875,"v":-1.5},{"a":"S06","t":-1.675,"v":0.8},{"a":"S06","t":-1.6625,"v":-3.0},{"a":"S06","t":-1.65,"v":2.3},{"a":"S06","t":-1.6375,"v":0.8},{"a":"S06","t":-1.625,"v":-3.0},{"a":"S06","t":-1.6125,"v":1.5},{"a":"S06","t":-1.6,"v":3.0},{"a":"S06","t":-1.5875,"v":-2.3},{"a":"S06","t":-1.575,"v":0.8},{"a":"S06","t":-1.5625,"v":2.3},{"a":"S06","t":-1.55,"v":-3.8},{"a":"S06","t":-1.5375,"v":1.5},{"a":"S06","t":-1.525,"v":3.0},{"a":"S06","t":-1.5125,"v":-1.5},
{"a":"S07","t":-2.1,"v":0.8},{"a":"S07","t":-2.0875,"v":2.3},{"a":"S07","t":-2.075,"v":-3.0},{"a":"S07","t":-2.0625,"v":1.5},{"a":"S07","t":-2.05,"v":-0.8},{"a":"S07","t":-2.0375,"v":3.0},{"a":"S07","t":-2.025,"v":-2.3},{"a":"S07","t":-2.0125,"v":0.8},{"a":"S07","t":-2,"v":3.0},{"a":"S07","t":-1.9875,"v":-3.0},{"a":"S07","t":-1.975,"v":0.0},{"a":"S07","t":-1.9625,"v":2.3},{"a":"S07","t":-1.95,"v":-1.5},{"a":"S07","t":-1.9375,"v":0.8},{"a":"S07","t":-1.925,"v":-3.8},{"a":"S07","t":-1.9125,"v":3.0},{"a":"S07","t":-1.9,"v":1.5},{"a":"S07","t":-1.8875,"v":-1.5},{"a":"S07","t":-1.875,"v":0.8},{"a":"S07","t":-1.8625,"v":3.0},{"a":"S07","t":-1.85,"v":-2.3},{"a":"S07","t":-1.8375,"v":1.0},{"a":"S07","t":-1.825,"v":-8.0},{"a":"S07","t":-1.8125,"v":8.0},{"a":"S07","t":-1.8,"v":12.0},{"a":"S07","t":-1.7875,"v":-11.5},{"a":"S07","t":-1.775,"v":-6.5},{"a":"S07","t":-1.7625,"v":-2.5},{"a":"S07","t":-1.75,"v":3.0},{"a":"S07","t":-1.7375,"v":2.3},{"a":"S07","t":-1.725,"v":-1.5},{"a":"S07","t":-1.7125,"v":0.8},{"a":"S07","t":-1.7,"v":3.0},{"a":"S07","t":-1.6875,"v":-2.3},{"a":"S07","t":-1.675,"v":1.5},{"a":"S07","t":-1.6625,"v":0.8},{"a":"S07","t":-1.65,"v":-3.0},{"a":"S07","t":-1.6375,"v":3.8},{"a":"S07","t":-1.625,"v":-1.5},{"a":"S07","t":-1.6125,"v":0.8},{"a":"S07","t":-1.6,"v":-2.3},{"a":"S07","t":-1.5875,"v":3.0},{"a":"S07","t":-1.575,"v":1.5},{"a":"S07","t":-1.5625,"v":-0.8},{"a":"S07","t":-1.55,"v":-2.3},{"a":"S07","t":-1.5375,"v":3.0},{"a":"S07","t":-1.525,"v":-1.5},{"a":"S07","t":-1.5125,"v":0.8},
{"a":"S08","t":-2.1,"v":-0.8},{"a":"S08","t":-2.0875,"v":3.8},{"a":"S08","t":-2.075,"v":1.5},{"a":"S08","t":-2.0625,"v":-3.0},{"a":"S08","t":-2.05,"v":0.8},{"a":"S08","t":-2.0375,"v":2.3},{"a":"S08","t":-2.025,"v":-1.5},{"a":"S08","t":-2.0125,"v":3.8},{"a":"S08","t":-2,"v":-0.8},{"a":"S08","t":-1.9875,"v":-3.0},{"a":"S08","t":-1.975,"v":2.3},{"a":"S08","t":-1.9625,"v":0.8},{"a":"S08","t":-1.95,"v":3.0},{"a":"S08","t":-1.9375,"v":-2.3},{"a":"S08","t":-1.925,"v":0.8},{"a":"S08","t":-1.9125,"v":1.5},{"a":"S08","t":-1.9,"v":-3.0},{"a":"S08","t":-1.8875,"v":2.3},{"a":"S08","t":-1.875,"v":0.0},{"a":"S08","t":-1.8625,"v":-1.5},{"a":"S08","t":-1.85,"v":3.0},{"a":"S08","t":-1.8375,"v":1.0},{"a":"S08","t":-1.825,"v":-7.0},{"a":"S08","t":-1.8125,"v":6.5},{"a":"S08","t":-1.8,"v":11.0},{"a":"S08","t":-1.7875,"v":-13.0},{"a":"S08","t":-1.775,"v":-8.5},{"a":"S08","t":-1.7625,"v":-2.0},{"a":"S08","t":-1.75,"v":3.8},{"a":"S08","t":-1.7375,"v":-0.8},{"a":"S08","t":-1.725,"v":2.3},{"a":"S08","t":-1.7125,"v":-2.3},{"a":"S08","t":-1.7,"v":0.8},{"a":"S08","t":-1.6875,"v":3.8},{"a":"S08","t":-1.675,"v":-1.5},{"a":"S08","t":-1.6625,"v":-3.8},{"a":"S08","t":-1.65,"v":2.3},{"a":"S08","t":-1.6375,"v":0.0},{"a":"S08","t":-1.625,"v":3.0},{"a":"S08","t":-1.6125,"v":-2.3},{"a":"S08","t":-1.6,"v":0.8},{"a":"S08","t":-1.5875,"v":1.5},{"a":"S08","t":-1.575,"v":-3.0},{"a":"S08","t":-1.5625,"v":2.3},{"a":"S08","t":-1.55,"v":-0.8},{"a":"S08","t":-1.5375,"v":1.5},{"a":"S08","t":-1.525,"v":-2.3},{"a":"S08","t":-1.5125,"v":3.0},
{"a":"S09","t":-2.1,"v":2.3},{"a":"S09","t":-2.0875,"v":-1.5},{"a":"S09","t":-2.075,"v":0.8},{"a":"S09","t":-2.0625,"v":3.0},{"a":"S09","t":-2.05,"v":-3.0},{"a":"S09","t":-2.0375,"v":0.8},{"a":"S09","t":-2.025,"v":2.3},{"a":"S09","t":-2.0125,"v":-2.3},{"a":"S09","t":-2,"v":0.0},{"a":"S09","t":-1.9875,"v":3.0},{"a":"S09","t":-1.975,"v":-1.5},{"a":"S09","t":-1.9625,"v":-3.0},{"a":"S09","t":-1.95,"v":1.5},{"a":"S09","t":-1.9375,"v":3.8},{"a":"S09","t":-1.925,"v":-0.8},{"a":"S09","t":-1.9125,"v":-2.3},{"a":"S09","t":-1.9,"v":1.5},{"a":"S09","t":-1.8875,"v":0.8},{"a":"S09","t":-1.875,"v":-3.0},{"a":"S09","t":-1.8625,"v":2.3},{"a":"S09","t":-1.85,"v":-0.8},{"a":"S09","t":-1.8375,"v":0.5},{"a":"S09","t":-1.825,"v":-8.5},{"a":"S09","t":-1.8125,"v":10.0},{"a":"S09","t":-1.8,"v":14.0},{"a":"S09","t":-1.7875,"v":-12.0},{"a":"S09","t":-1.775,"v":-7.5},{"a":"S09","t":-1.7625,"v":-3.0},{"a":"S09","t":-1.75,"v":3.5},{"a":"S09","t":-1.7375,"v":-1.5},{"a":"S09","t":-1.725,"v":0.8},{"a":"S09","t":-1.7125,"v":3.0},{"a":"S09","t":-1.7,"v":-2.3},{"a":"S09","t":-1.6875,"v":0.8},{"a":"S09","t":-1.675,"v":2.3},{"a":"S09","t":-1.6625,"v":-1.5},{"a":"S09","t":-1.65,"v":-0.8},{"a":"S09","t":-1.6375,"v":3.0},{"a":"S09","t":-1.625,"v":-1.5},{"a":"S09","t":-1.6125,"v":0.8},{"a":"S09","t":-1.6,"v":2.3},{"a":"S09","t":-1.5875,"v":-3.0},{"a":"S09","t":-1.575,"v":0.8},{"a":"S09","t":-1.5625,"v":1.5},{"a":"S09","t":-1.55,"v":-2.3},{"a":"S09","t":-1.5375,"v":3.8},{"a":"S09","t":-1.525,"v":0.8},{"a":"S09","t":-1.5125,"v":-1.5},
{"a":"S12","t":-2.1,"v":1.5},{"a":"S12","t":-2.0875,"v":-0.8},{"a":"S12","t":-2.075,"v":0.8},{"a":"S12","t":-2.0625,"v":2.3},{"a":"S12","t":-2.05,"v":-1.5},{"a":"S12","t":-2.0375,"v":3.0},{"a":"S12","t":-2.025,"v":-2.3},{"a":"S12","t":-2.0125,"v":0.8},{"a":"S12","t":-2,"v":1.5},{"a":"S12","t":-1.9875,"v":-0.8},{"a":"S12","t":-1.975,"v":2.3},{"a":"S12","t":-1.9625,"v":-1.5},{"a":"S12","t":-1.95,"v":0.8},{"a":"S12","t":-1.9375,"v":3.8},{"a":"S12","t":-1.925,"v":-2.3},{"a":"S12","t":-1.9125,"v":1.5},{"a":"S12","t":-1.9,"v":0.8},{"a":"S12","t":-1.8875,"v":-1.5},{"a":"S12","t":-1.875,"v":2.3},{"a":"S12","t":-1.8625,"v":-2.6},{"a":"S12","t":-1.85,"v":0.8},{"a":"S12","t":-1.8375,"v":1.0},{"a":"S12","t":-1.825,"v":-7.5},{"a":"S12","t":-1.8125,"v":5.5},{"a":"S12","t":-1.8,"v":10.5},{"a":"S12","t":-1.7875,"v":-10.5},{"a":"S12","t":-1.775,"v":-5.5},{"a":"S12","t":-1.7625,"v":-1.0},{"a":"S12","t":-1.75,"v":3.0},{"a":"S12","t":-1.7375,"v":2.3},{"a":"S12","t":-1.725,"v":-0.8},{"a":"S12","t":-1.7125,"v":1.5},{"a":"S12","t":-1.7,"v":-2.3},{"a":"S12","t":-1.6875,"v":0.8},{"a":"S12","t":-1.675,"v":1.5},{"a":"S12","t":-1.6625,"v":-1.5},{"a":"S12","t":-1.65,"v":3.0},{"a":"S12","t":-1.6375,"v":-0.8},{"a":"S12","t":-1.625,"v":1.5},{"a":"S12","t":-1.6125,"v":-2.3},{"a":"S12","t":-1.6,"v":0.8},{"a":"S12","t":-1.5875,"v":2.3},{"a":"S12","t":-1.575,"v":-0.8},{"a":"S12","t":-1.5625,"v":1.5},{"a":"S12","t":-1.55,"v":-1.5},{"a":"S12","t":-1.5375,"v":0.8},{"a":"S12","t":-1.525,"v":2.3},{"a":"S12","t":-1.5125,"v":-0.8},
{"a":"S28","t":-2.1,"v":2.3},{"a":"S28","t":-2.0875,"v":0.8},{"a":"S28","t":-2.075,"v":-3.0},{"a":"S28","t":-2.0625,"v":1.5},{"a":"S28","t":-2.05,"v":3.0},{"a":"S28","t":-2.0375,"v":-2.3},{"a":"S28","t":-2.025,"v":0.8},{"a":"S28","t":-2.0125,"v":3.8},{"a":"S28","t":-2,"v":-1.5},{"a":"S28","t":-1.9875,"v":-3.8},{"a":"S28","t":-1.975,"v":1.5},{"a":"S28","t":-1.9625,"v":0.8},{"a":"S28","t":-1.95,"v":3.0},{"a":"S28","t":-1.9375,"v":-2.3},{"a":"S28","t":-1.925,"v":0.0},{"a":"S28","t":-1.9125,"v":2.3},{"a":"S28","t":-1.9,"v":-3.0},{"a":"S28","t":-1.8875,"v":1.5},{"a":"S28","t":-1.875,"v":0.8},{"a":"S28","t":-1.8625,"v":-2.3},{"a":"S28","t":-1.85,"v":3.0},{"a":"S28","t":-1.8375,"v":-1.0},{"a":"S28","t":-1.825,"v":-9.0},{"a":"S28","t":-1.8125,"v":7.0},{"a":"S28","t":-1.8,"v":13.5},{"a":"S28","t":-1.7875,"v":-12.5},{"a":"S28","t":-1.775,"v":-6.5},{"a":"S28","t":-1.7625,"v":-2.0},{"a":"S28","t":-1.75,"v":3.0},{"a":"S28","t":-1.7375,"v":-1.5},{"a":"S28","t":-1.725,"v":3.0},{"a":"S28","t":-1.7125,"v":-0.8},{"a":"S28","t":-1.7,"v":-3.0},{"a":"S28","t":-1.6875,"v":2.3},{"a":"S28","t":-1.675,"v":0.8},{"a":"S28","t":-1.6625,"v":-2.3},{"a":"S28","t":-1.65,"v":3.0},{"a":"S28","t":-1.6375,"v":1.5},{"a":"S28","t":-1.625,"v":-3.8},{"a":"S28","t":-1.6125,"v":0.8},{"a":"S28","t":-1.6,"v":2.3},{"a":"S28","t":-1.5875,"v":-1.5},{"a":"S28","t":-1.575,"v":1.5},{"a":"S28","t":-1.5625,"v":3.0},{"a":"S28","t":-1.55,"v":-2.3},{"a":"S28","t":-1.5375,"v":0.8},{"a":"S28","t":-1.525,"v":-1.5},{"a":"S28","t":-1.5125,"v":2.3},
{"a":"S11","t":-2.1,"v":-1.5},{"a":"S11","t":-2.0875,"v":2.3},{"a":"S11","t":-2.075,"v":2.8},{"a":"S11","t":-2.0625,"v":-2.3},{"a":"S11","t":-2.05,"v":0.8},{"a":"S11","t":-2.0375,"v":-1.5},{"a":"S11","t":-2.025,"v":2.3},{"a":"S11","t":-2.0125,"v":3.4},{"a":"S11","t":-2,"v":-0.8},{"a":"S11","t":-1.9875,"v":1.5},{"a":"S11","t":-1.975,"v":-3.0},{"a":"S11","t":-1.9625,"v":0.8},{"a":"S11","t":-1.95,"v":2.3},{"a":"S11","t":-1.9375,"v":-1.5},{"a":"S11","t":-1.925,"v":0.8},{"a":"S11","t":-1.9125,"v":3.0},{"a":"S11","t":-1.9,"v":-1.5},{"a":"S11","t":-1.8875,"v":3.6},{"a":"S11","t":-1.875,"v":-0.8},{"a":"S11","t":-1.8625,"v":-2.3},{"a":"S11","t":-1.85,"v":1.5},{"a":"S11","t":-1.8375,"v":0.5},{"a":"S11","t":-1.825,"v":-8.0},{"a":"S11","t":-1.8125,"v":7.5},{"a":"S11","t":-1.8,"v":11.5},{"a":"S11","t":-1.7875,"v":-11.0},{"a":"S11","t":-1.775,"v":-6.0},{"a":"S11","t":-1.7625,"v":-2.5},{"a":"S11","t":-1.75,"v":3.0},{"a":"S11","t":-1.7375,"v":0.8},{"a":"S11","t":-1.725,"v":-2.3},{"a":"S11","t":-1.7125,"v":1.5},{"a":"S11","t":-1.7,"v":3.0},{"a":"S11","t":-1.6875,"v":3.5},{"a":"S11","t":-1.675,"v":-1.5},{"a":"S11","t":-1.6625,"v":0.8},{"a":"S11","t":-1.65,"v":2.3},{"a":"S11","t":-1.6375,"v":-2.3},{"a":"S11","t":-1.625,"v":0.8},{"a":"S11","t":-1.6125,"v":3.0},{"a":"S11","t":-1.6,"v":-1.5},{"a":"S11","t":-1.5875,"v":0.8},{"a":"S11","t":-1.575,"v":-2.3},{"a":"S11","t":-1.5625,"v":1.5},{"a":"S11","t":-1.55,"v":3.0},{"a":"S11","t":-1.5375,"v":-1.5},{"a":"S11","t":-1.525,"v":0.8},{"a":"S11","t":-1.5125,"v":2.3},
{"a":"S30","t":-2.1,"v":-1.5},{"a":"S30","t":-2.0875,"v":3.0},{"a":"S30","t":-2.075,"v":-0.8},{"a":"S30","t":-2.0625,"v":2.3},{"a":"S30","t":-2.05,"v":-2.3},{"a":"S30","t":-2.0375,"v":0.8},{"a":"S30","t":-2.025,"v":3.0},{"a":"S30","t":-2.0125,"v":-1.5},{"a":"S30","t":-2,"v":0.8},{"a":"S30","t":-1.9875,"v":2.3},{"a":"S30","t":-1.975,"v":-0.8},{"a":"S30","t":-1.9625,"v":3.0},{"a":"S30","t":-1.95,"v":-2.3},{"a":"S30","t":-1.9375,"v":0.8},{"a":"S30","t":-1.925,"v":1.5},{"a":"S30","t":-1.9125,"v":-1.5},{"a":"S30","t":-1.9,"v":2.3},{"a":"S30","t":-1.8875,"v":0.8},{"a":"S30","t":-1.875,"v":-3.0},{"a":"S30","t":-1.8625,"v":1.5},{"a":"S30","t":-1.85,"v":-0.8},{"a":"S30","t":-1.8375,"v":1.0},{"a":"S30","t":-1.825,"v":-8.0},{"a":"S30","t":-1.8125,"v":9.0},{"a":"S30","t":-1.8,"v":12.5},{"a":"S30","t":-1.7875,"v":-11.5},{"a":"S30","t":-1.775,"v":-6.0},{"a":"S30","t":-1.7625,"v":-2.0},{"a":"S30","t":-1.75,"v":3.8},{"a":"S30","t":-1.7375,"v":0.0},{"a":"S30","t":-1.725,"v":1.5},{"a":"S30","t":-1.7125,"v":-2.3},{"a":"S30","t":-1.7,"v":1.5},{"a":"S30","t":-1.6875,"v":3.8},{"a":"S30","t":-1.675,"v":-0.8},{"a":"S30","t":-1.6625,"v":-1.5},{"a":"S30","t":-1.65,"v":2.3},{"a":"S30","t":-1.6375,"v":-0.8},{"a":"S30","t":-1.625,"v":0.8},{"a":"S30","t":-1.6125,"v":3.0},{"a":"S30","t":-1.6,"v":-1.5},{"a":"S30","t":-1.5875,"v":0.8},{"a":"S30","t":-1.575,"v":2.3},{"a":"S30","t":-1.5625,"v":-1.5},{"a":"S30","t":-1.55,"v":0.8},{"a":"S30","t":-1.5375,"v":2.3},{"a":"S30","t":-1.525,"v":-0.8},{"a":"S30","t":-1.5125,"v":1.5},
{"a":"S10","t":-2.1,"v":0.8},{"a":"S10","t":-2.0875,"v":3.6},{"a":"S10","t":-2.075,"v":-1.5},{"a":"S10","t":-2.0625,"v":0.8},{"a":"S10","t":-2.05,"v":-3.0},{"a":"S10","t":-2.0375,"v":3.0},{"a":"S10","t":-2.025,"v":0.8},{"a":"S10","t":-2.0125,"v":2.3},{"a":"S10","t":-2,"v":-1.5},{"a":"S10","t":-1.9875,"v":-4.3},{"a":"S10","t":-1.975,"v":3.0},{"a":"S10","t":-1.9625,"v":0.8},{"a":"S10","t":-1.95,"v":-2.3},{"a":"S10","t":-1.9375,"v":1.5},{"a":"S10","t":-1.925,"v":3.0},{"a":"S10","t":-1.9125,"v":-1.5},{"a":"S10","t":-1.9,"v":0.8},{"a":"S10","t":-1.8875,"v":-2.3},{"a":"S10","t":-1.875,"v":2.3},{"a":"S10","t":-1.8625,"v":0.0},{"a":"S10","t":-1.85,"v":-1.5},{"a":"S10","t":-1.8375,"v":1.5},{"a":"S10","t":-1.825,"v":-9.0},{"a":"S10","t":-1.8125,"v":8.5},{"a":"S10","t":-1.8,"v":12.5},{"a":"S10","t":-1.7875,"v":-12.5},{"a":"S10","t":-1.775,"v":-7.0},{"a":"S10","t":-1.7625,"v":-2.0},{"a":"S10","t":-1.75,"v":3.8},{"a":"S10","t":-1.7375,"v":1.5},{"a":"S10","t":-1.725,"v":-1.5},{"a":"S10","t":-1.7125,"v":2.3},{"a":"S10","t":-1.7,"v":-0.8},{"a":"S10","t":-1.6875,"v":3.0},{"a":"S10","t":-1.675,"v":-2.3},{"a":"S10","t":-1.6625,"v":0.8},{"a":"S10","t":-1.65,"v":-3.0},{"a":"S10","t":-1.6375,"v":1.5},{"a":"S10","t":-1.625,"v":4.6},{"a":"S10","t":-1.6125,"v":-1.5},{"a":"S10","t":-1.6,"v":0.8},{"a":"S10","t":-1.5875,"v":2.3},{"a":"S10","t":-1.575,"v":-3.0},{"a":"S10","t":-1.5625,"v":0.8},{"a":"S10","t":-1.55,"v":-4.9},{"a":"S10","t":-1.5375,"v":2.3},{"a":"S10","t":-1.525,"v":0.8},{"a":"S10","t":-1.5125,"v":-1.5},
{"a":"S04","t":-2.1,"v":-2.0},{"a":"S04","t":-2.0875,"v":1.0},{"a":"S04","t":-2.075,"v":-4.3},{"a":"S04","t":-2.0625,"v":2.0},{"a":"S04","t":-2.05,"v":4.0},{"a":"S04","t":-2.0375,"v":-2.4},{"a":"S04","t":-2.025,"v":1.0},{"a":"S04","t":-2.0125,"v":0.5},{"a":"S04","t":-2,"v":-1.5},{"a":"S04","t":-1.9875,"v":2.5},{"a":"S04","t":-1.975,"v":0.5},{"a":"S04","t":-1.9625,"v":-5.0},{"a":"S04","t":-1.95,"v":1.5},{"a":"S04","t":-1.9375,"v":0.0},{"a":"S04","t":-1.925,"v":4.4},{"a":"S04","t":-1.9125,"v":-1.0},{"a":"S04","t":-1.9,"v":-3.3},{"a":"S04","t":-1.8875,"v":1.5},{"a":"S04","t":-1.875,"v":0.8},{"a":"S04","t":-1.8625,"v":3.3},{"a":"S04","t":-1.85,"v":-3.9},{"a":"S04","t":-1.8375,"v":4.5},{"a":"S04","t":-1.825,"v":-9.5},{"a":"S04","t":-1.8125,"v":7.0},{"a":"S04","t":-1.8,"v":12.5},{"a":"S04","t":-1.7875,"v":-16.0},{"a":"S04","t":-1.775,"v":-8.0},{"a":"S04","t":-1.7625,"v":-3.0},{"a":"S04","t":-1.75,"v":2.5},{"a":"S04","t":-1.7375,"v":3.9},{"a":"S04","t":-1.725,"v":-6.9},{"a":"S04","t":-1.7125,"v":7.2},{"a":"S04","t":-1.7,"v":-1.0},{"a":"S04","t":-1.6875,"v":2.5},{"a":"S04","t":-1.675,"v":2.5},{"a":"S04","t":-1.6625,"v":-2.4},{"a":"S04","t":-1.65,"v":1.0},{"a":"S04","t":-1.6375,"v":-6.6},{"a":"S04","t":-1.625,"v":1.5},{"a":"S04","t":-1.6125,"v":-1.0},{"a":"S04","t":-1.6,"v":6.6},{"a":"S04","t":-1.5875,"v":-2.0},{"a":"S04","t":-1.575,"v":-4.8},{"a":"S04","t":-1.5625,"v":1.0},{"a":"S04","t":-1.55,"v":2.0},{"a":"S04","t":-1.5375,"v":-1.5},{"a":"S04","t":-1.525,"v":-4.8},{"a":"S04","t":-1.5125,"v":1.0},
{"a":"S01","t":-2.1,"v":4.2},{"a":"S01","t":-2.0875,"v":1.5},{"a":"S01","t":-2.075,"v":-5.0},{"a":"S01","t":-2.0625,"v":7.6},{"a":"S01","t":-2.05,"v":-4.1},{"a":"S01","t":-2.0375,"v":1.0},{"a":"S01","t":-2.025,"v":-1.5},{"a":"S01","t":-2.0125,"v":-5.6},{"a":"S01","t":-2,"v":9.6},{"a":"S01","t":-1.9875,"v":-1.0},{"a":"S01","t":-1.975,"v":0.5},{"a":"S01","t":-1.9625,"v":-2.0},{"a":"S01","t":-1.95,"v":1.2},{"a":"S01","t":-1.9375,"v":5.3},{"a":"S01","t":-1.925,"v":-5.8},{"a":"S01","t":-1.9125,"v":0.8},{"a":"S01","t":-1.9,"v":6.2},{"a":"S01","t":-1.8875,"v":-1.5},{"a":"S01","t":-1.875,"v":0.6},{"a":"S01","t":-1.8625,"v":-2.0},{"a":"S01","t":-1.85,"v":-6.1},{"a":"S01","t":-1.8375,"v":7.3},{"a":"S01","t":-1.825,"v":-15.1},{"a":"S01","t":-1.8125,"v":11.6},{"a":"S01","t":-1.8,"v":18.5},{"a":"S01","t":-1.7875,"v":-13.5},{"a":"S01","t":-1.775,"v":-4.0},{"a":"S01","t":-1.7625,"v":-2.0},{"a":"S01","t":-1.75,"v":1.5},{"a":"S01","t":-1.7375,"v":-1.0},{"a":"S01","t":-1.725,"v":1.5},{"a":"S01","t":-1.7125,"v":-1.0},{"a":"S01","t":-1.7,"v":0.8},{"a":"S01","t":-1.6875,"v":2.0},{"a":"S01","t":-1.675,"v":-1.5},{"a":"S01","t":-1.6625,"v":1.2},{"a":"S01","t":-1.65,"v":-6.9},{"a":"S01","t":-1.6375,"v":7.3},{"a":"S01","t":-1.625,"v":-2.0},{"a":"S01","t":-1.6125,"v":0.5},{"a":"S01","t":-1.6,"v":1.8},{"a":"S01","t":-1.5875,"v":-8.3},{"a":"S01","t":-1.575,"v":0.5},{"a":"S01","t":-1.5625,"v":2.0},{"a":"S01","t":-1.55,"v":-1.0},{"a":"S01","t":-1.5375,"v":-4.5},{"a":"S01","t":-1.525,"v":1.0},{"a":"S01","t":-1.5125,"v":-0.5}
]},
"layer": [
{
"mark": {"type": "line", "strokeWidth": 1.6, "clip": true},
"encoding": {
"x": {"field": "t", "type": "quantitative", "scale": {"domain": [-2.1, -1.52], "nice": false, "zero": false},
 "axis": {"orient": "bottom", "values": [-2.1, -2, -1.9, -1.8, -1.7, -1.6], "labelExpr": "(datum.value < 0 ? '-' : '') + format(abs(datum.value), '.1f')", "tickSize": -12, "labelPadding": 27, "labelFont": "Open Sans", "labelFontSize": 28, "labelColor": "#1a1a1a", "labelFlush": false, "labelOverlap": false, "title": "Zeit t [ µ sec]", "titleFont": "Open Sans", "titleFontSize": 31, "titleFontWeight": "normal", "titleColor": "#1a1a1a", "titlePadding": 9, "titleX": 464}},
"y": {"field": "v", "type": "quantitative", "scale": {"domain": [-16.9, 19.4], "nice": false, "zero": false},
 "axis": {"orient": "left", "values": [-10, 0, 10], "labelExpr": "(datum.value < 0 ? '-' : '') + format(abs(datum.value), 'd')", "tickSize": -12, "labelPadding": 19, "labelFont": "Open Sans", "labelFontSize": 28, "labelColor": "#1a1a1a", "labelOverlap": false, "title": "Feldstärke e₀ [ µ V/m/MHz]", "titleFont": "Open Sans", "titleFontSize": 29, "titleFontWeight": "normal", "titleColor": "#1a1a1a", "titleX": -88, "titleY": 302}},
"color": {"field": "a", "type": "nominal", "legend": null,
 "scale": {"domain": ["S01","S02","S03","S04","S05","S06","S07","S08","S09","S10","S11","S12","S13","S14","S15","S16","S17","S18","S19","S20","S21","S22","S23","S24","S25","S26","S27","S28","S29","S30"],
 "range": ["#7B4FC4","#8B62CC","#6A4BB8","#2F3FB0","#6E5AC8","#3D78D6","#4A8EDC","#4AA6E2","#58B8E8","#3FC3D8","#4FCFDA","#80D8E2","#45B5B0","#5CB848","#78C060","#A8D888","#F3D28C","#F5C8A0","#F2A8B8","#E890A8","#C8382A","#B52A22","#A23328","#C4C4C4","#D6D6D6","#C287C8","#5A62C8","#38AFD0","#3A86D8","#5FC8D2"]}}
}
},
{
"transform": [{"filter": "datum.a == 'S01' && datum.t == -2.1"}],
"mark": {"type": "point", "opacity": 0},
"encoding": {
"x": {"field": "t", "type": "quantitative", "scale": {"domain": [-2.1, -1.52], "nice": false, "zero": false},
 "axis": {"orient": "bottom", "values": [-2.1,-2.08,-2.06,-2.04,-2.02,-2,-1.98,-1.96,-1.94,-1.92,-1.9,-1.88,-1.86,-1.84,-1.82,-1.8,-1.78,-1.76,-1.74,-1.72,-1.7,-1.68,-1.66,-1.64,-1.62,-1.6,-1.58,-1.56,-1.54,-1.52], "labels": false, "tickSize": -7, "title": null}},
"y": {"field": "v", "type": "quantitative", "scale": {"domain": [-16.9, 19.4], "nice": false, "zero": false},
 "axis": {"orient": "left", "values": [-16,-14,-12,-10,-8,-6,-4,-2,0,2,4,6,8,10,12,14,16,18], "labels": false, "tickSize": -7, "title": null}}
}
},
{
"transform": [{"filter": "datum.a == 'S01' && datum.t == -2.1"}],
"mark": {"type": "point", "opacity": 0},
"encoding": {
"x": {"field": "t", "type": "quantitative", "scale": {"domain": [-2.1, -1.52], "nice": false, "zero": false},
 "axis": {"orient": "top", "values": [-2.1, -2, -1.9, -1.8, -1.7, -1.6], "labels": false, "tickSize": -12, "title": null}},
"y": {"field": "v", "type": "quantitative", "scale": {"domain": [-16.9, 19.4], "nice": false, "zero": false},
 "axis": {"orient": "right", "values": [-10, 0, 10], "labels": false, "tickSize": -12, "title": null}}
}
},
{
"transform": [{"filter": "datum.a == 'S01' && datum.t == -2.1"}],
"mark": {"type": "point", "opacity": 0},
"encoding": {
"x": {"field": "t", "type": "quantitative", "scale": {"domain": [-2.1, -1.52], "nice": false, "zero": false},
 "axis": {"orient": "top", "values": [-2.1,-2.08,-2.06,-2.04,-2.02,-2,-1.98,-1.96,-1.94,-1.92,-1.9,-1.88,-1.86,-1.84,-1.82,-1.8,-1.78,-1.76,-1.74,-1.72,-1.7,-1.68,-1.66,-1.64,-1.62,-1.6,-1.58,-1.56,-1.54,-1.52], "labels": false, "tickSize": -7, "title": null}},
"y": {"field": "v", "type": "quantitative", "scale": {"domain": [-16.9, 19.4], "nice": false, "zero": false},
 "axis": {"orient": "right", "values": [-16,-14,-12,-10,-8,-6,-4,-2,0,2,4,6,8,10,12,14,16,18], "labels": false, "tickSize": -7, "title": null}}
}
}
],
"resolve": {"axis": {"x": "independent", "y": "independent"}}
}
